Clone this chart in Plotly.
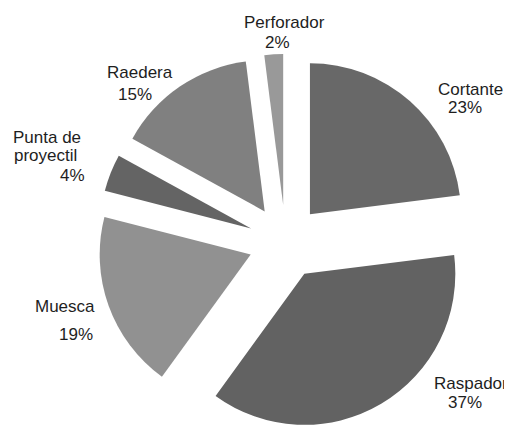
import plotly.graph_objects as go

# ---- data ----
categories = ["Cortante", "Raspador", "Muesca", "Punta de proyectil", "Raedera", "Perforador"]
percentages = [23, 37, 19, 4, 15, 2]
slice_colors = ["#686868", "#626262", "#919191", "#646464", "#808080", "#999999"]

# ---- label layout (screen pixel centres of each text line: name lines..., percent line) ----
OFF = 8  # page body margin
W, H = 512 - OFF, 430 - OFF
label_lines = {
    "Cortante": [["Cortante"], (470, 89), (465, 107)],
    "Raspador": [["Raspador"], (471, 383), (465, 402)],
    "Muesca": [["Muesca"], (65, 306), (76, 334)],
    "Punta de proyectil": [["Punta de", "proyectil"], (47, 138), (45, 155), (72, 175)],
    "Raedera": [["Raedera"], (140, 72), (135, 94)],
    "Perforador": [["Perforador"], (284, 23), (277, 42)],
}

cx_screen, cy_screen, half = 285.5, 242, 188
dx0 = (cx_screen - OFF) / W
dy1 = 2 * half / H

fig = go.Figure(
    go.Pie(
        labels=categories,
        values=percentages,
        marker=dict(colors=slice_colors, line=dict(width=0)),
        sort=False,
        direction="clockwise",
        rotation=0,
        pull=[0.245] * len(categories),
        textinfo="none",
        hoverinfo="none",
        showlegend=False,
        domain=dict(x=[2 * dx0 - 1.0, 1.0], y=[0.0, dy1]),
    )
)

font = dict(family="Liberation Sans, Arial, sans-serif", size=17, color="#1e1e1e")
annotations = []
for cat, val in zip(categories, percentages):
    spec = label_lines[cat]
    names = spec[0]
    positions = spec[1:]
    texts = names + [f"{val}%"]
    for t, (px, py) in zip(texts, positions):
        annotations.append(
            dict(
                text=t,
                x=(px - OFF) / W,
                y=1 - (py - OFF) / H,
                xref="paper",
                yref="paper",
                xanchor="center",
                yanchor="middle",
                showarrow=False,
                borderpad=0,
                font=font,
            )
        )

fig.update_layout(
    width=W,
    height=H,
    margin=dict(l=0, r=0, t=0, b=0),
    paper_bgcolor="white",
    plot_bgcolor="white",
    annotations=annotations,
)

fig.write_html("out.html")
